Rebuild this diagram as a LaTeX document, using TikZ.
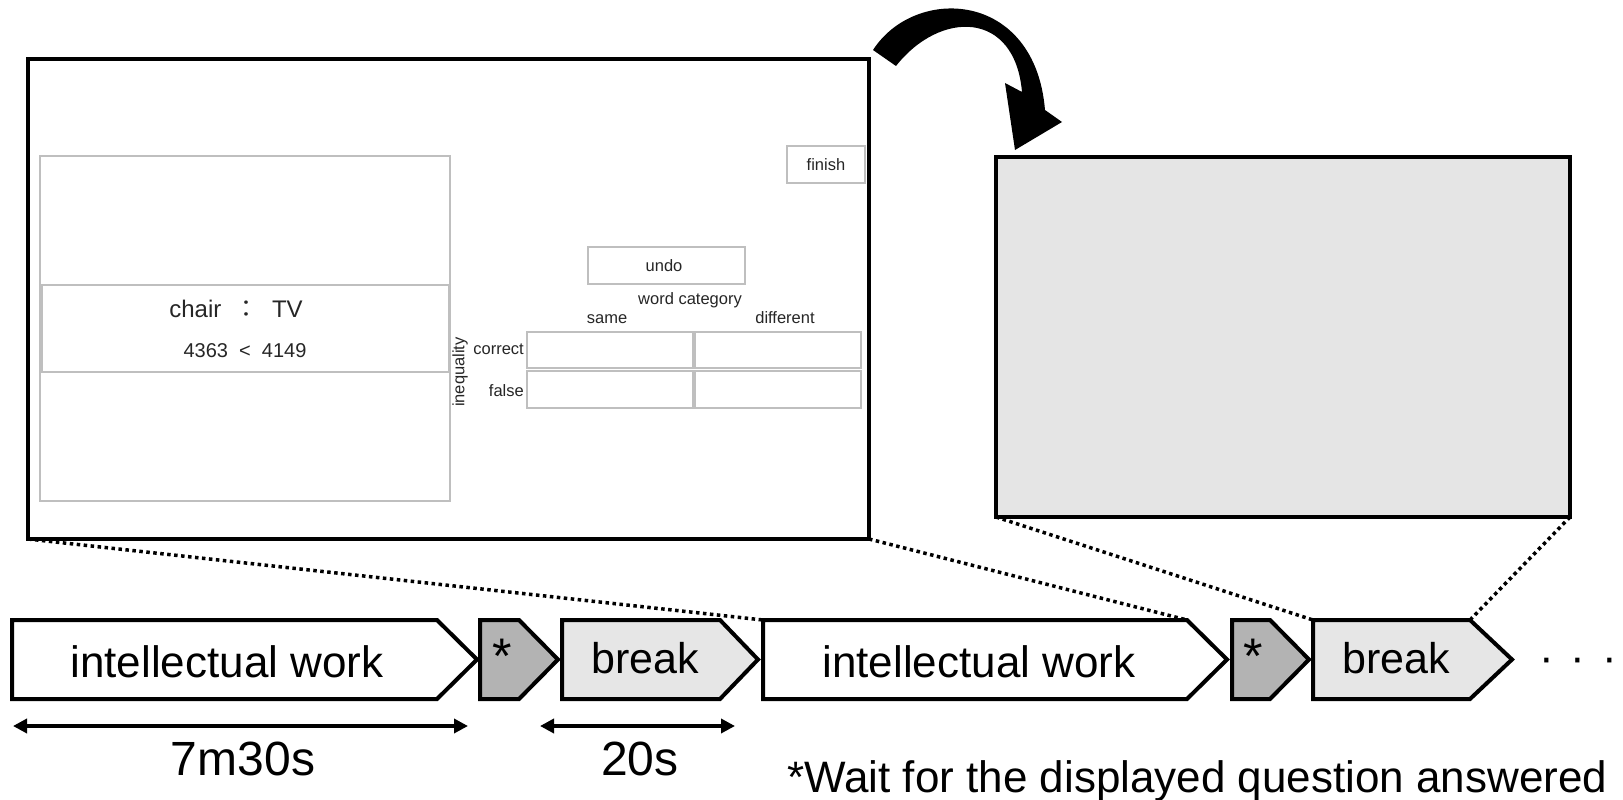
\documentclass[tikz,border=0pt]{standalone}
\usepackage{fontspec}
\setmainfont{Liberation Sans}
\newfontfamily\cjk{Noto Sans CJK JP}
\usetikzlibrary{arrows.meta}
\newcommand{\myfs}[1]{\fontsize{#1}{#1}\selectfont}
\definecolor{scrline}{HTML}{BFBFBF}
\definecolor{scrtext}{HTML}{262626}
\definecolor{stargray}{HTML}{B3B3B3}
\definecolor{breakgray}{HTML}{E6E6E6}
\definecolor{panelgray}{HTML}{E5E5E5}
\begin{document}
\begin{tikzpicture}[x=1pt,y=-1pt,
  screen/.style={draw=black, line width=4pt, outer sep=0pt, inner sep=0pt, anchor=north west},
  ui/.style={draw=scrline, line width=1.3pt, outer sep=0pt, inner sep=0pt, anchor=north west},
  uitext/.style={text=scrtext, inner sep=0pt, font=\myfs{16.5pt}},
  chev/.style={draw=black, line width=4pt, line join=miter},
  big/.style={inner sep=0pt, anchor=base},
  dots/.style={line width=3.5pt, dash pattern=on 3.5pt off 3.5pt},
  dbl/.style={line width=4.5pt, {Triangle[length=14pt,width=14pt]}-{Triangle[length=14pt,width=14pt]}}
]
\useasboundingbox (0,0) rectangle (1623,800);

% ---- screen mock-up ----
\node[screen, fill=white, minimum width=841pt, minimum height=480pt] (scr) at (28,59) {};
\node[ui, minimum width=410pt, minimum height=345pt] (panel) at (40,156) {};
\node[ui, minimum width=407pt, minimum height=87pt] (strip) at (42,285) {};
\node[ui, minimum width=78pt, minimum height=37pt] (finbox) at (787,146) {};
\node[ui, minimum width=157pt, minimum height=37pt] (undobox) at (588,247) {};
\node[ui, minimum width=166pt, minimum height=36pt] (c11) at (527,332) {};
\node[ui, minimum width=166pt, minimum height=36pt] (c12) at (695,332) {};
\node[ui, minimum width=166pt, minimum height=37pt] (c21) at (527,371) {};
\node[ui, minimum width=166pt, minimum height=37pt] (c22) at (695,371) {};

\node[big, text=scrtext, font=\myfs{24pt}] (pair) at (236,317) {chair~~{\cjk ：}~~TV};
\node[big, text=scrtext, font=\myfs{20pt}] (ineqtxt) at (245,357) {4363~~<~~4149};
\node[uitext, anchor=base] (fin) at (826,170) {finish};
\node[uitext, anchor=base] (undo) at (664,271) {undo};
\node[uitext, anchor=base] (wc) at (690,304) {word category};
\node[uitext, anchor=base] (same) at (607,323) {same};
\node[uitext, anchor=base] (diff) at (785,323) {different};
\node[uitext, anchor=base east] (corr) at (524,354) {correct};
\node[uitext, anchor=base east] (fals) at (524,396) {false};
\node[uitext, rotate=90] (ineq) at (460,372) {inequality};

% ---- blank screen ----
\node[screen, fill=panelgray, minimum width=574pt, minimum height=360pt] (blank) at (996,157) {};

% ---- curved arrow ----
\fill[black] (873,50) .. controls (915,-15) and (1035,-10) .. (1045,110)
  -- (1062,122) -- (1015,150) -- (1005,83) -- (1022,92)
  .. controls (1015,10) and (940,10) .. (896,66) -- cycle;

% ---- timeline ----
\draw[chev, fill=white] (12,620) -- (437,620) -- (477,659.5) -- (437,699) -- (12,699) -- cycle;
\draw[chev, fill=stargray] (480,620) -- (519,620) -- (558,659.5) -- (519,699) -- (480,699) -- cycle;
\draw[chev, fill=breakgray] (562,620) -- (720,620) -- (758,659.5) -- (720,699) -- (562,699) -- cycle;
\draw[chev, fill=white] (763,620) -- (1187,620) -- (1227,659.5) -- (1187,699) -- (763,699) -- cycle;
\draw[chev, fill=stargray] (1232,620) -- (1270,620) -- (1309,659.5) -- (1270,699) -- (1232,699) -- cycle;
\draw[chev, fill=breakgray] (1313,620) -- (1470,620) -- (1512,659.5) -- (1470,699) -- (1313,699) -- cycle;

\coordinate (iw2nw) at (763,620);
\coordinate (iw2top) at (1187,620);
\coordinate (br2nw) at (1313,620);
\coordinate (br2top) at (1470,620);

\node[big, font=\myfs{44pt}] (iw1) at (227,677) {intellectual work};
\node[big, font=\myfs{50pt}] (st1) at (502,673) {*};
\node[big, font=\myfs{43pt}] (br1) at (645,673) {break};
\node[big, font=\myfs{44pt}] (iw2) at (979,677) {intellectual work};
\node[big, font=\myfs{50pt}] (st2) at (1253,673) {*};
\node[big, font=\myfs{43pt}] (br2) at (1396,673) {break};
\node[big, font=\myfs{44pt}] (more) at (1578,672) {·\hspace{16.8pt}·\hspace{16.8pt}·};

% ---- zoom lines ----
\draw[dots] (scr.south west) -- (iw2nw);
\draw[dots] (scr.south east) -- (iw2top);
\draw[dots] (blank.south west) -- (br2nw);
\draw[dots] (blank.south east) -- (br2top);

% ---- durations ----
\coordinate (d1l) at (13,726);
\coordinate (d1r) at (468,726);
\coordinate (d2l) at (540,726);
\coordinate (d2r) at (735,726);
\draw[dbl] (d1l) -- (d1r);
\draw[dbl] (d2l) -- (d2r);
\node[big, font=\myfs{48pt}] (t1) at (243,775) {7m30s};
\node[big, font=\myfs{48pt}] (t2) at (640,775) {20s};
\node[inner sep=0pt, anchor=base west, font=\myfs{44pt}] (note) at (787,792) {*Wait for the displayed question answered};
\end{tikzpicture}
\end{document}
